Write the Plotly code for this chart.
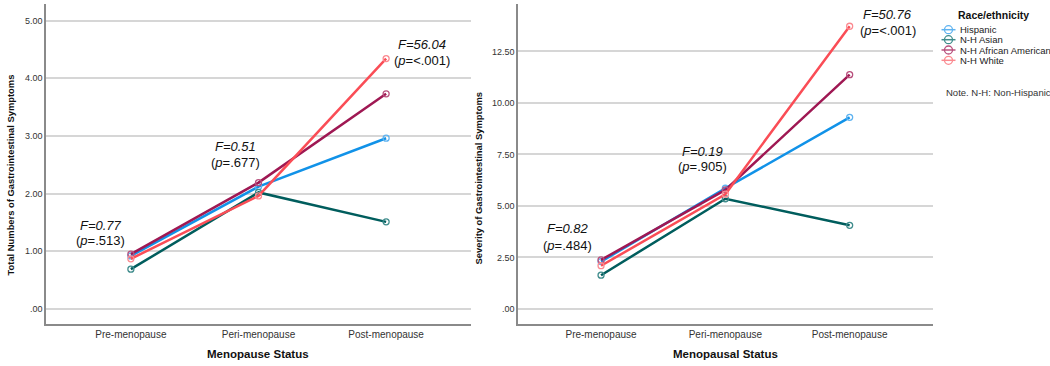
import plotly.graph_objects as go

W, H = 1050, 366

categories = ["Pre-menopause", "Peri-menopause", "Post-menopause"]
groups = ["Hispanic", "N-H Asian", "N-H African American", "N-H White"]
line_colors = ["#1192e8", "#005d5d", "#9f1853", "#fa4d56"]
marker_colors = ["#5fb3f0", "#3f8c8c", "#b8507d", "#fb8a90"]

# Left panel: Total numbers of GI symptoms
total_hispanic = [0.92, 2.12, 2.96]
total_asian = [0.69, 2.02, 1.51]
total_aa = [0.95, 2.19, 3.73]
total_white = [0.87, 1.96, 4.34]

# Right panel: Severity of GI symptoms
sev_hispanic = [2.30, 5.86, 9.30]
sev_asian = [1.64, 5.35, 4.06]
sev_aa = [2.38, 5.78, 11.37]
sev_white = [2.10, 5.57, 13.72]

left_ticks = [0, 1, 2, 3, 4, 5]
left_ticktext = [".00", "1.00", "2.00", "3.00", "4.00", "5.00"]
right_ticks = [0, 2.5, 5, 7.5, 10, 12.5]
right_ticktext = [".00", "2.50", "5.00", "7.50", "10.00", "12.50"]

left_stats = [("F=0.77", "(<i>p</i>=.513)"), ("F=0.51", "(<i>p</i>=.677)"), ("F=56.04", "(<i>p</i>=<.001)")]
right_stats = [("F=0.82", "(<i>p</i>=.484)"), ("F=0.19", "(<i>p</i>=.905)"), ("F=50.76", "(<i>p</i>=<.001)")]

FONT = "Arial, Liberation Sans, sans-serif"


def px(x):
    return x / W


def py(y):
    return 1 - y / H


fig = go.Figure()
xidx = list(range(len(categories)))
left_series = [total_hispanic, total_asian, total_aa, total_white]
right_series = [sev_hispanic, sev_asian, sev_aa, sev_white]

for vals, name, lc, mc in zip(left_series, groups, line_colors, marker_colors):
    fig.add_trace(go.Scatter(x=xidx, y=vals, mode="lines+markers", name=name,
                             line=dict(color=lc, width=2.5),
                             marker=dict(symbol="circle-open", size=6, color=mc, line=dict(width=1.3, color=mc)),
                             showlegend=False, xaxis="x", yaxis="y"))
for vals, name, lc, mc in zip(right_series, groups, line_colors, marker_colors):
    fig.add_trace(go.Scatter(x=xidx, y=vals, mode="lines+markers", name=name,
                             line=dict(color=lc, width=2.5),
                             marker=dict(symbol="circle-open", size=6, color=mc, line=dict(width=1.3, color=mc)),
                             showlegend=False, xaxis="x2", yaxis="y2"))

axis_common = dict(showgrid=False, zeroline=False, ticks="", showline=True,
                   linecolor="#8a8a8a", linewidth=1.5,
                   tickfont=dict(family=FONT, size=10, color="#333333"))

fig.update_layout(
    width=W, height=H,
    margin=dict(l=0, r=0, t=0, b=0),
    paper_bgcolor="white", plot_bgcolor="white",
    showlegend=False,
    xaxis=dict(domain=[px(46), px(471)], range=[-0.665, 2.665],
               tickvals=xidx, ticktext=categories, anchor="y", **axis_common),
    yaxis=dict(domain=[py(324), py(4)], range=[-0.26, 5.286],
               tickvals=left_ticks, ticktext=left_ticktext, anchor="x",
               **{**axis_common, "showgrid": True, "gridcolor": "#d6d6d6", "gridwidth": 1.5,
                  "tickfont": dict(family=FONT, size=9, color="#333333")}),
    xaxis2=dict(domain=[px(518), px(932.7)], range=[-0.668, 2.668],
                tickvals=xidx, ticktext=categories, anchor="y2", **axis_common),
    yaxis2=dict(domain=[py(324), py(4)], range=[-0.728, 14.8],
                tickvals=right_ticks, ticktext=right_ticktext, anchor="x2",
                **{**axis_common, "showgrid": True, "gridcolor": "#d6d6d6", "gridwidth": 1.5,
                   "tickfont": dict(family=FONT, size=9, color="#333333")}),
)

ann = []
# axis titles
ann.append(dict(text="<b>Total Numbers of Gastrointestinal Symptoms</b>", x=px(10), y=py(175.5),
                textangle=-90, font=dict(family=FONT, size=9.4, color="#111")))
ann.append(dict(text="<b>Severity of Gastrointestinal Symptoms</b>", x=px(478), y=py(178.5),
                textangle=-90, font=dict(family=FONT, size=9.4, color="#111")))
ann.append(dict(text="<b>Menopause Status</b>", x=px(258), y=py(354),
                font=dict(family=FONT, size=11.5, color="#111")))
ann.append(dict(text="<b>Menopausal Status</b>", x=px(725), y=py(354),
                font=dict(family=FONT, size=11.5, color="#111")))

# stats annotations
left_pos = [(100.7, 225, 241), (235.7, 146, 162.5), (422, 44.5, 60.5)]
right_pos = [(567.7, 228.5, 245), (702.7, 151, 167), (887.7, 14.5, 31)]
for (f, p), (cx, fy, pyy) in list(zip(left_stats, left_pos)) + list(zip(right_stats, right_pos)):
    ann.append(dict(text="<i>" + f + "</i>", x=px(cx), y=py(fy),
                    font=dict(family=FONT, size=13, color="#111")))
    ann.append(dict(text=p, x=px(cx), y=py(pyy),
                    font=dict(family=FONT, size=13, color="#111")))

# custom legend
ann.append(dict(text="<b>Race/ethnicity</b>", x=px(993), y=py(14.7),
                font=dict(family=FONT, size=10.5, color="#111")))
shapes = []
row_y = [29.7, 39.7, 50, 60.3]
for name, lc, mc, ry in zip(groups, line_colors, marker_colors, row_y):
    shapes.append(dict(type="line", xref="paper", yref="paper", x0=px(941.5), x1=px(955.5),
                       y0=py(ry), y1=py(ry), line=dict(color=mc, width=1.5)))
    shapes.append(dict(type="circle", xref="paper", yref="paper", x0=px(944.5), x1=px(952.5),
                       y0=py(ry + 4), y1=py(ry - 4), line=dict(color=mc, width=1.3)))
    ann.append(dict(text=name, x=px(958.5), y=py(ry), xanchor="left", borderpad=0,
                    font=dict(family=FONT, size=9.5, color="#222")))
ann.append(dict(text="Note. N-H: Non-Hispanic", x=px(944.5), y=py(92), xanchor="left", borderpad=0,
                font=dict(family=FONT, size=9.5, color="#333")))

for a in ann:
    a.setdefault("xref", "paper")
    a.setdefault("yref", "paper")
    a.setdefault("showarrow", False)
    a.setdefault("xanchor", "center")
    a.setdefault("yanchor", "middle")

fig.update_layout(annotations=ann, shapes=shapes)
fig.write_html("out.html", config={"displayModeBar": False},
               post_script="document.body.style.margin='0';document.body.style.padding='0';")
